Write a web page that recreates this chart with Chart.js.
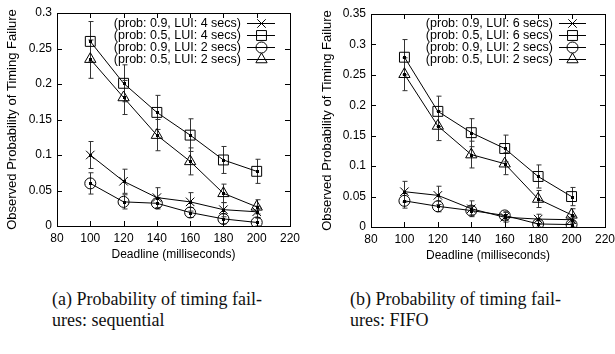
<!DOCTYPE html>
<html>
<head>
<meta charset="utf-8">
<script src="https://cdn.jsdelivr.net/npm/chart.js@4.4.0/dist/chart.umd.min.js"></script>
<style>
  html, body { margin: 0; padding: 0; background: #fff; overflow: hidden; }
  body { width: 615px; height: 354px; position: relative; }
  canvas { position: absolute; top: 0; }
  #seqChart { left: 0; }
  #fifoChart { left: 310px; }
  .caption {
    position: absolute;
    font-family: 'Liberation Serif', 'Times New Roman', serif;
    font-size: 18px;
    line-height: 21px;
    color: #111;
    white-space: nowrap;
  }
</style>
</head>
<body>
<canvas id="seqChart" width="305" height="268"></canvas>
<canvas id="fifoChart" width="310" height="269"></canvas>
<div class="caption" style="left:52px; top:289px;">(a) Probability of timing fail-<br>ures: sequential</div>
<div class="caption" style="left:350px; top:289px;">(b) Probability of timing fail-<br>ures: FIFO</div>

<script>
// x values shared by both plots
const deadlines = [100, 120, 140, 160, 180, 200];

// (a) sequential
const seqLabels = ['(prob: 0.9, LUI: 4 secs)', '(prob: 0.5, LUI: 4 secs)', '(prob: 0.9, LUI: 2 secs)', '(prob: 0.5, LUI: 2 secs)'];
const seqP09Lui4 = [0.100, 0.063, 0.040, 0.034, 0.023, 0.020];
const seqP09Lui4Err = [0.019, 0.017, 0.014, 0.013, 0.010, 0.008];
const seqP05Lui4 = [0.260, 0.201, 0.160, 0.128, 0.093, 0.077];
const seqP05Lui4Err = [0.028, 0.026, 0.024, 0.023, 0.019, 0.017];
const seqP09Lui2 = [0.060, 0.034, 0.032, 0.019, 0.010, 0.005];
const seqP09Lui2Err = [0.015, 0.010, 0.008, 0.007, 0.007, 0.006];
const seqP05Lui2 = [0.235, 0.181, 0.128, 0.091, 0.046, 0.027];
const seqP05Lui2Err = [0.027, 0.024, 0.022, 0.019, 0.013, 0.010];

// (b) FIFO
const fifoLabels = ['(prob: 0.9, LUI: 6 secs)', '(prob: 0.5, LUI: 6 secs)', '(prob: 0.9, LUI: 2 secs)', '(prob: 0.5, LUI: 2 secs)'];
const fifoP09Lui6 = [0.058, 0.052, 0.030, 0.016, 0.013, 0.012];
const fifoP09Lui6Err = [0.017, 0.015, 0.013, 0.008, 0.008, 0.006];
const fifoP05Lui6 = [0.279, 0.190, 0.155, 0.129, 0.083, 0.050];
const fifoP05Lui6Err = [0.029, 0.025, 0.023, 0.022, 0.019, 0.015];
const fifoP09Lui2 = [0.043, 0.034, 0.027, 0.019, 0.005, 0.004];
const fifoP09Lui2Err = [0.012, 0.009, 0.007, 0.006, 0.005, 0.004];
const fifoP05Lui2 = [0.251, 0.166, 0.119, 0.104, 0.046, 0.020];
const fifoP05Lui2Err = [0.027, 0.024, 0.022, 0.018, 0.014, 0.010];

const markerStyles = ['crossRot', 'rect', 'circle', 'triangle'];
const markerSizes = [6, 7, 5.5, 6.5];

const SANS = "'Liberation Sans', Arial, Helvetica, sans-serif";

// gnuplot-like frame with ticks pointing inward on every side
const framePlugin = {
    id: 'frame',
    afterDraw(chart) {
        const { ctx, chartArea: a } = chart;
        const xs = chart.scales.x, ys = chart.scales.y;
        ctx.save();
        ctx.strokeStyle = '#000';
        ctx.lineWidth = 1;
        ctx.strokeRect(Math.round(a.left) + 0.5, Math.round(a.top) + 0.5, Math.round(a.right - a.left), Math.round(a.bottom - a.top));
        ctx.beginPath();
        xs.ticks.forEach(t => {
            const px = Math.round(xs.getPixelForValue(t.value)) + 0.5;
            ctx.moveTo(px, a.bottom); ctx.lineTo(px, a.bottom - 5);
            ctx.moveTo(px, a.top); ctx.lineTo(px, a.top + 5);
        });
        ys.ticks.forEach(t => {
            const py = Math.round(ys.getPixelForValue(t.value)) + 0.5;
            ctx.moveTo(a.left, py); ctx.lineTo(a.left + 5, py);
            ctx.moveTo(a.right, py); ctx.lineTo(a.right - 5, py);
        });
        ctx.stroke();
        ctx.restore();
    }
};

// error bars + the little filled dot gnuplot leaves at each point
const errorBarPlugin = {
    id: 'errorBars',
    beforeDatasetsDraw(chart) {
        const { ctx } = chart;
        const xs = chart.scales.x, ys = chart.scales.y;
        ctx.save();
        ctx.strokeStyle = '#333';
        ctx.lineWidth = 1;
        chart.data.datasets.forEach(ds => {
            ds.data.forEach((p, i) => {
                const px = Math.round(xs.getPixelForValue(p.x)) + 0.5;
                const top = ys.getPixelForValue(p.y + ds.err[i]);
                const bot = ys.getPixelForValue(Math.max(0, p.y - ds.err[i]));
                ctx.beginPath();
                ctx.moveTo(px, top); ctx.lineTo(px, bot);
                ctx.moveTo(px - 2, top); ctx.lineTo(px + 3, top);
                ctx.moveTo(px - 2, bot); ctx.lineTo(px + 3, bot);
                ctx.stroke();
            });
        });
        ctx.restore();
    },
    afterDatasetsDraw(chart) {
        const { ctx } = chart;
        const xs = chart.scales.x, ys = chart.scales.y;
        ctx.save();
        ctx.fillStyle = '#000';
        chart.data.datasets.forEach(ds => {
            ds.data.forEach(p => {
                const px = xs.getPixelForValue(p.x), py = ys.getPixelForValue(p.y);
                ctx.fillRect(Math.round(px) - 1, Math.round(py) - 1, 3, 3);
            });
        });
        ctx.restore();
    }
};

// key in the top right corner: text right aligned, then line sample with marker
const keyPlugin = {
    id: 'key',
    afterDraw(chart, args, opts) {
        const { ctx, chartArea: a } = chart;
        ctx.save();
        ctx.font = '12.5px ' + SANS;
        ctx.textAlign = 'right';
        ctx.textBaseline = 'middle';
        ctx.strokeStyle = '#000';
        ctx.lineWidth = 1;
        chart.data.datasets.forEach((ds, i) => {
            const y = Math.round(a.top + opts.top + i * opts.rowH) + 0.5;
            const x1 = a.right - opts.lineEnd - opts.lineLen;
            const x2 = a.right - opts.lineEnd;
            ctx.fillStyle = '#000';
            ctx.fillText(ds.label, x1 - opts.gap, y);
            ctx.beginPath();
            ctx.moveTo(x1, y); ctx.lineTo(x2, y);
            ctx.stroke();
            ctx.fillStyle = 'rgba(0,0,0,0)';
            Chart.helpers.drawPoint(ctx, {
                pointStyle: ds.pointStyle,
                radius: ds.pointRadius,
                rotation: 0,
                borderWidth: 1
            }, Math.round((x1 + x2) / 2) + 0.5, y);
        });
        ctx.restore();
    }
};

function buildDatasets(labels, values, errs) {
    return labels.map((label, i) => ({
        label: label,
        data: deadlines.map((d, j) => ({ x: d, y: values[i][j] })),
        err: errs[i],
        borderColor: '#000',
        backgroundColor: 'rgba(0,0,0,0)',
        borderWidth: 1,
        pointStyle: markerStyles[i],
        pointRadius: markerSizes[i],
        pointBorderColor: '#000',
        pointBackgroundColor: 'rgba(0,0,0,0)',
        pointBorderWidth: 1,
        tension: 0
    }));
}

function makeChart(id, datasets, cfg) {
    return new Chart(document.getElementById(id), {
        type: 'line',
        data: { datasets: datasets },
        plugins: [errorBarPlugin, framePlugin, keyPlugin],
        options: {
            responsive: false,
            animation: false,
            layout: { padding: { top: cfg.padTop, right: cfg.padRight, left: 0, bottom: 0 } },
            plugins: {
                legend: { display: false },
                tooltip: { enabled: false },
                key: cfg.key
            },
            scales: {
                x: {
                    type: 'linear',
                    min: 80, max: 220,
                    grid: { display: false, drawTicks: false },
                    border: { display: false },
                    ticks: { stepSize: 20, color: '#000', padding: 5, maxRotation: 0, font: { family: SANS, size: 12 } },
                    title: { display: true, text: 'Deadline (milliseconds)', color: '#000', padding: { top: 0, bottom: 6 }, font: { family: SANS, size: 12 } },
                    afterFit: s => { s.height = 42; }
                },
                y: {
                    min: 0, max: cfg.yMax,
                    grid: { display: false, drawTicks: false },
                    border: { display: false },
                    ticks: { stepSize: cfg.yStep, color: '#000', padding: 5, font: { family: SANS, size: 12 },
                        callback: v => String(+v.toFixed(2)) },
                    title: { display: true, text: 'Observed Probability of Timing Failure', color: '#000', padding: { top: cfg.yTitlePad, bottom: 0 }, font: { family: SANS, size: 13 } },
                    afterFit: s => { s.width = cfg.yWidth; }
                }
            }
        }
    });
}

makeChart('seqChart',
    buildDatasets(seqLabels, [seqP09Lui4, seqP05Lui4, seqP09Lui2, seqP05Lui2], [seqP09Lui4Err, seqP05Lui4Err, seqP09Lui2Err, seqP05Lui2Err]),
    { yMax: 0.3, yStep: 0.05, yWidth: 57, yTitlePad: 5, padTop: 13, padRight: 12,
      key: { top: 10, rowH: 12, lineEnd: 15, lineLen: 28, gap: 6 } });

makeChart('fifoChart',
    buildDatasets(fifoLabels, [fifoP09Lui6, fifoP05Lui6, fifoP09Lui2, fifoP05Lui2], [fifoP09Lui6Err, fifoP05Lui6Err, fifoP09Lui2Err, fifoP05Lui2Err]),
    { yMax: 0.35, yStep: 0.05, yWidth: 61, yTitlePad: 10, padTop: 14, padRight: 11,
      key: { top: 9, rowH: 12, lineEnd: 19, lineLen: 27, gap: 6 } });
</script>
</body>
</html>
